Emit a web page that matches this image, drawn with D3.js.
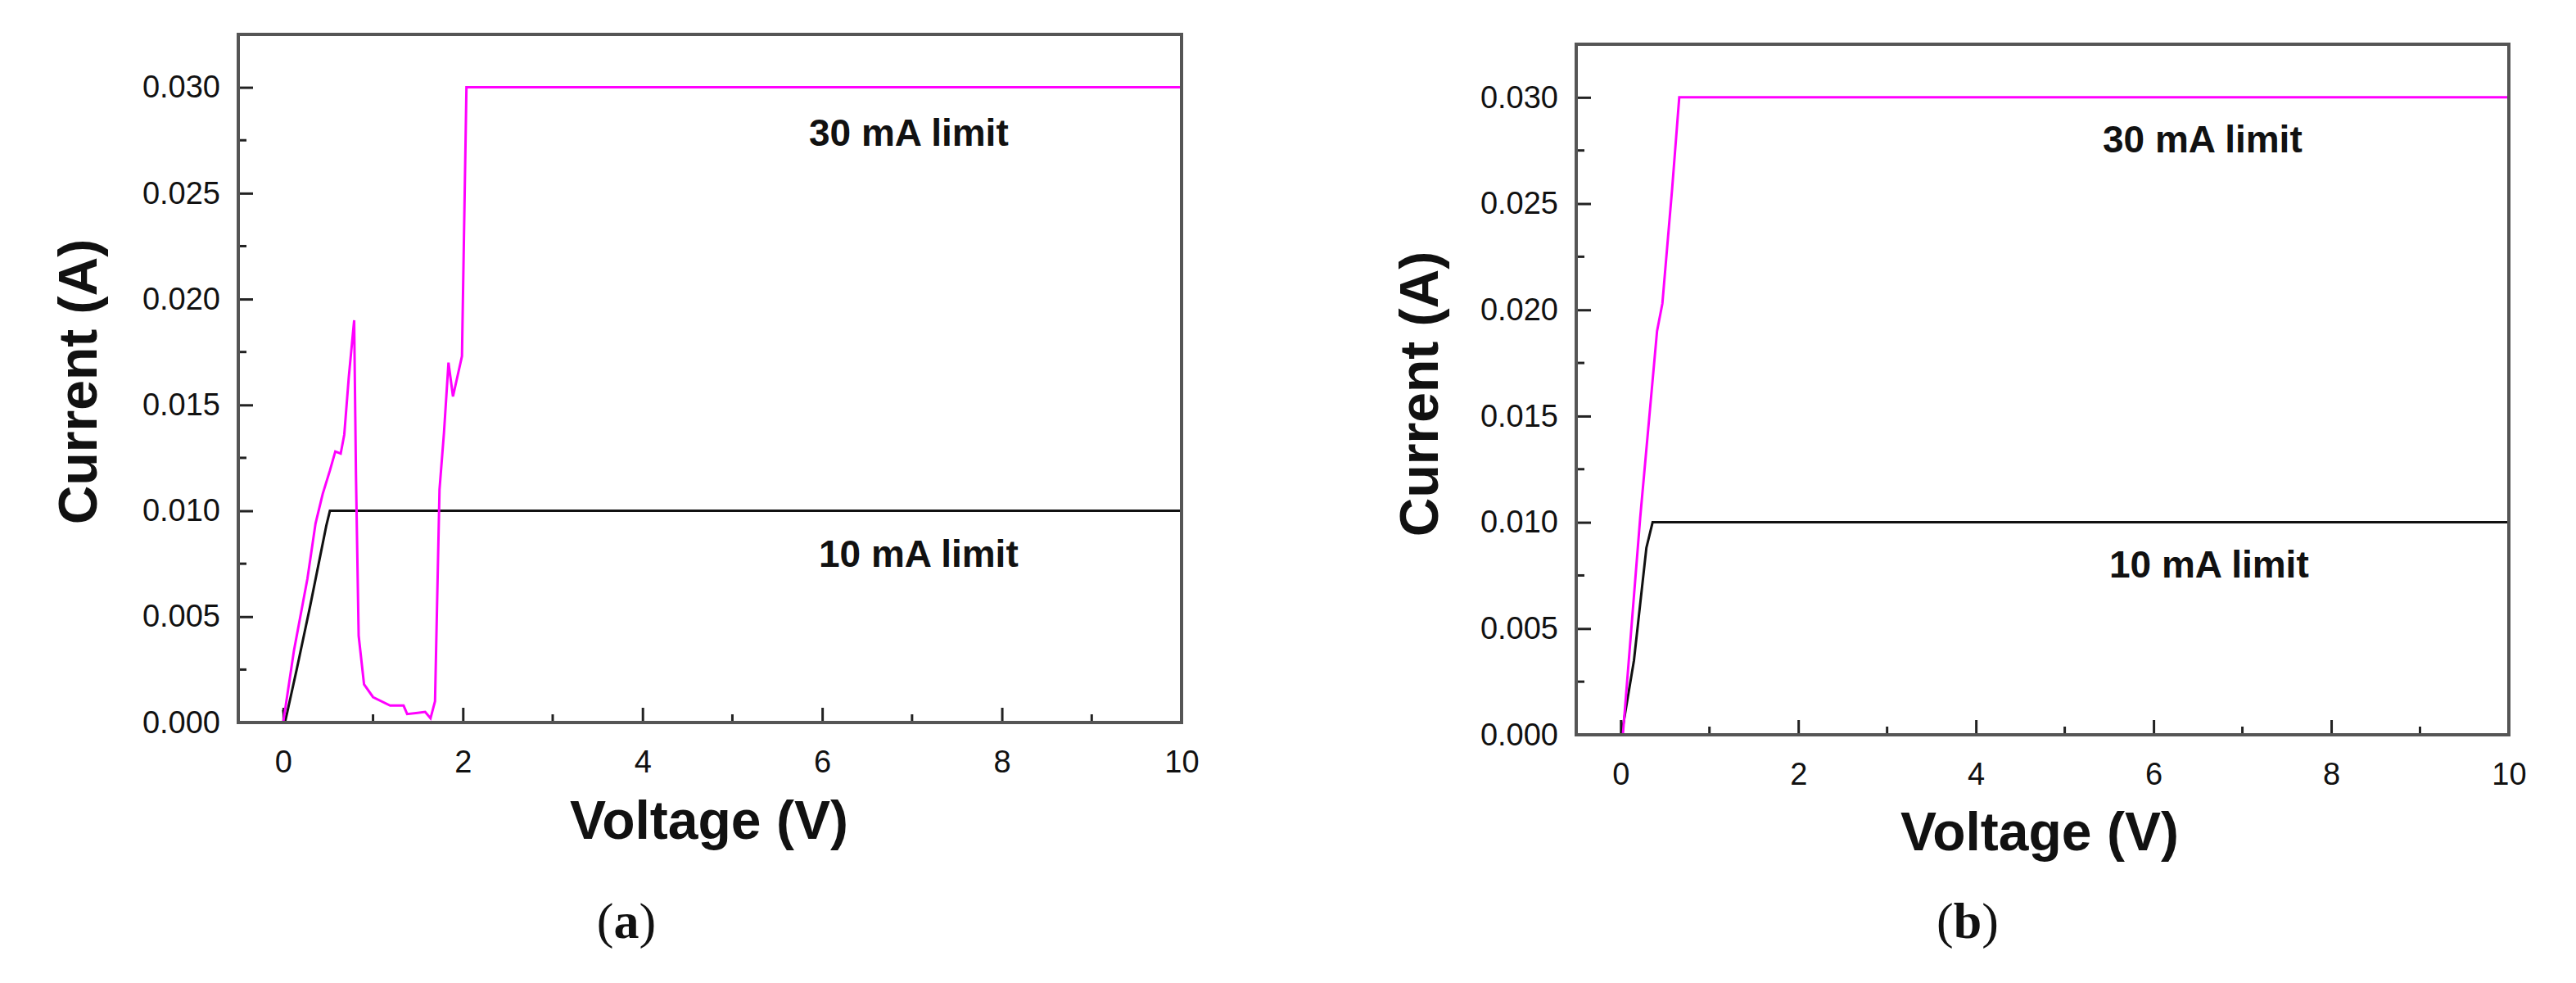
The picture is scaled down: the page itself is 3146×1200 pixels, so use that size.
<!DOCTYPE html>
<html><head><meta charset="utf-8">
<script src="https://cdn.jsdelivr.net/npm/d3@7"></script>
<style>body{margin:0;background:#fff}</style>
</head><body>
<svg id="c" width="3146" height="1200"></svg>
<script>
const xTicks = [0, 2, 4, 6, 8, 10];
const yTicks = [0, 0.005, 0.010, 0.015, 0.020, 0.025, 0.030];
// Panel (a)
const aMagenta = [[0,0],[0.12,0.0034],[0.27,0.0068],[0.36,0.0094],[0.44,0.0108],[0.52,0.0119],[0.58,0.0128],[0.64,0.0127],[0.68,0.0136],[0.73,0.0163],[0.79,0.019],[0.81,0.0117],[0.84,0.0041],[0.90,0.0018],[1.0,0.0012],[1.19,0.0008],[1.34,0.0008],[1.38,0.0004],[1.58,0.0005],[1.64,0.0002],[1.69,0.001],[1.74,0.011],[1.79,0.0137],[1.84,0.017],[1.89,0.0154],[1.99,0.0173],[2.04,0.030],[10,0.030]];
const aBlack = [[0,0.0006],[0.02,0],[0.15,0.0025],[0.3,0.0055],[0.48,0.0093],[0.52,0.010],[10,0.010]];
// Panel (b)
const bMagenta = [[0.025,0],[0.22,0.0102],[0.41,0.019],[0.47,0.0203],[0.58,0.0257],[0.66,0.030],[10,0.030]];
const bBlack = [[0.01,0],[0.15,0.0035],[0.29,0.0088],[0.36,0.010],[10,0.010]];

const panels = [
  {left:291,right:1443,top:42,bottom:882,mag:aMagenta,blk:aBlack,lbl30:[988,178],lbl10:[1000,692],vx:866,vy:1024,cx:118,cy:466,tag:"a",tagx:765},
  {left:1925,right:3064,top:54,bottom:897,mag:bMagenta,blk:bBlack,lbl30:[2568,186],lbl10:[2576,705],vx:2491,vy:1038,cx:1756,cy:481,tag:"b",tagx:2403}
];
const svg = d3.select("#c");
panels.forEach(p=>{
  const x = d3.scaleLinear().domain([-0.5,10]).range([p.left,p.right]);
  const y = d3.scaleLinear().domain([0,0.0325]).range([p.bottom,p.top]);
  const g = svg.append("g");
  // minor ticks
  const xm = d3.range(1,10,2), ym = d3.range(0.0025,0.031,0.005);
  g.selectAll(".xm").data(xm).enter().append("line").attr("x1",d=>x(d)).attr("x2",d=>x(d)).attr("y1",p.bottom).attr("y2",p.bottom-10).attr("stroke","#222").attr("stroke-width",3);
  g.selectAll(".ym").data(ym).enter().append("line").attr("y1",d=>y(d)).attr("y2",d=>y(d)).attr("x1",p.left).attr("x2",p.left+10).attr("stroke","#222").attr("stroke-width",3);
  const xa = d3.axisBottom(x).tickValues(xTicks).tickSize(-18).tickPadding(34).tickFormat(d3.format("d"));
  const ya = d3.axisLeft(y).tickValues(yTicks).tickSize(-18).tickPadding(22).tickFormat(d3.format(".3f"));
  const gx = g.append("g").attr("transform",`translate(0,${p.bottom})`).call(xa);
  const gy = g.append("g").attr("transform",`translate(${p.left},0)`).call(ya);
  [gx,gy].forEach(a=>{
    a.select(".domain").remove();
    a.selectAll(".tick line").attr("stroke","#222").attr("stroke-width",3);
    a.selectAll("text").attr("font-family","Liberation Sans, Arial, sans-serif").attr("font-size",38).attr("fill","#111");
  });
  const line = d3.line().x(d=>x(d[0])).y(d=>y(d[1]));
  g.append("path").datum(p.blk).attr("d",line).attr("fill","none").attr("stroke","#111").attr("stroke-width",3);
  g.append("path").datum(p.mag).attr("d",line).attr("fill","none").attr("stroke","#ff00ff").attr("stroke-width",3);
  g.append("rect").attr("x",p.left).attr("y",p.top).attr("width",p.right-p.left).attr("height",p.bottom-p.top).attr("fill","none").attr("stroke","#555").attr("stroke-width",4);
  const bold = "Liberation Sans, Arial, sans-serif";
  g.append("text").attr("x",p.lbl30[0]).attr("y",p.lbl30[1]).text("30 mA limit").attr("font-family",bold).attr("font-weight","bold").attr("font-size",46).attr("fill","#111");
  g.append("text").attr("x",p.lbl10[0]).attr("y",p.lbl10[1]).text("10 mA limit").attr("font-family",bold).attr("font-weight","bold").attr("font-size",46).attr("fill","#111");
  g.append("text").attr("x",p.vx).attr("y",p.vy).attr("text-anchor","middle").text("Voltage (V)").attr("font-family",bold).attr("font-weight","bold").attr("font-size",66).attr("fill","#111");
  g.append("text").attr("transform",`translate(${p.cx},${p.cy}) rotate(-90)`).attr("text-anchor","middle").text("Current (A)").attr("font-family",bold).attr("font-weight","bold").attr("font-size",66).attr("fill","#111");
  const t = g.append("text").attr("x",p.tagx).attr("y",1145).attr("text-anchor","middle").attr("font-family","Liberation Serif, Times New Roman, serif").attr("font-size",62).attr("fill","#111");
  t.append("tspan").text("(");
  t.append("tspan").attr("font-weight","bold").text(p.tag);
  t.append("tspan").text(")");
});
</script>
</body></html>
